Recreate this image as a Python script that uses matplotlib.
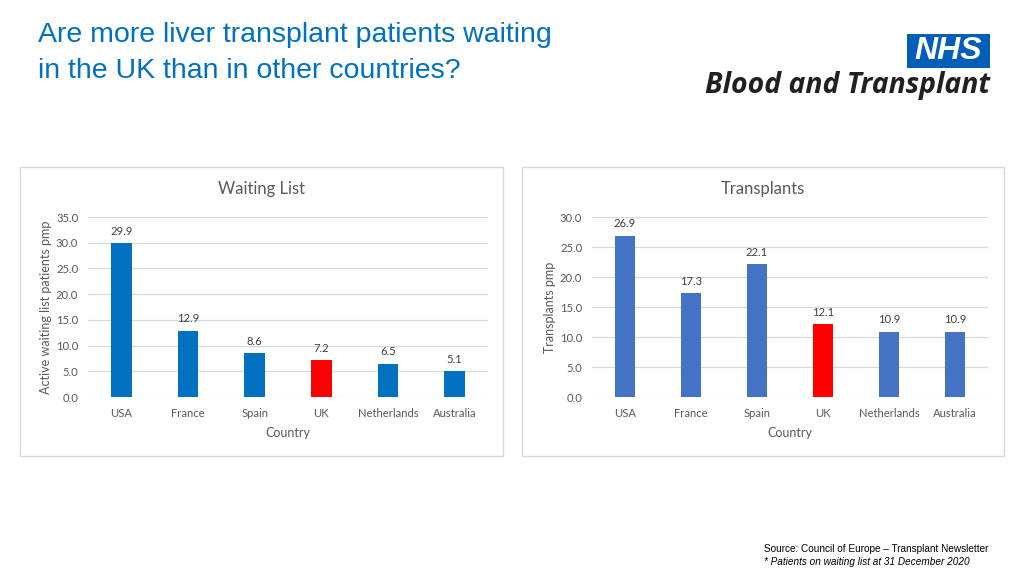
import matplotlib.pyplot as plt
from matplotlib.patches import Rectangle

countries = ["USA", "France", "Spain", "UK", "Netherlands", "Australia"]
waiting = [29.9, 12.9, 8.6, 7.2, 6.5, 5.1]
transplants = [26.9, 17.3, 22.1, 12.1, 10.9, 10.9]

W, H = 1024, 576
fig = plt.figure(figsize=(W / 100, H / 100), dpi=100)
fig.patch.set_facecolor("white")

CHART_FONT = ["Lato", "DejaVu Sans"]
GREY = "#595959"


def px_axes(x0, y0, x1, y1):
    # pixel box (top-left origin) -> figure axes
    ax = fig.add_axes([x0 / W, 1 - y1 / H, (x1 - x0) / W, (y1 - y0) / H])
    ax.set_zorder(2)
    ax.patch.set_alpha(0)
    return ax


def panel(x0, y0, x1, y1):
    fig.patches.append(Rectangle((x0 / W, 1 - y1 / H), (x1 - x0) / W,
                                 (y1 - y0) / H, transform=fig.transFigure,
                                 facecolor="white", edgecolor="#d9d9d9",
                                 linewidth=1.0, zorder=-1))


def bar_chart(ax, values, blue, ymax, title, ylabel, px_box):
    colors = ["#FF0000" if c == "UK" else blue for c in countries]
    bars = ax.bar(countries, values, width=0.31, color=colors, zorder=3)
    ax.set_ylim(0, ymax)
    ax.set_xlim(-0.5, len(countries) - 0.5)
    ax.set_yticks(range(0, ymax + 1, 5))
    ax.set_yticklabels([f"{v:.1f}" for v in range(0, ymax + 1, 5)])
    ax.grid(axis="y", color="#d9d9d9", linewidth=0.9, zorder=0)
    for s in ax.spines.values():
        s.set_visible(False)
    ax.tick_params(axis="y", length=0, labelsize=8.1, labelcolor=GREY, pad=7)
    ax.tick_params(axis="x", length=0, labelsize=8.1, labelcolor=GREY, pad=8)
    for lab in ax.get_xticklabels() + ax.get_yticklabels():
        lab.set_family(CHART_FONT)
    for b, v in zip(bars, values):
        ax.annotate(f"{v:.1f}", (b.get_x() + b.get_width() / 2, v),
                    xytext=(0, 4.5), textcoords="offset points",
                    ha="center", va="bottom", fontsize=8.1, color="#404040",
                    family=CHART_FONT)
    ax.set_xlabel("Country", fontsize=9, color=GREY, family=CHART_FONT,
                  labelpad=5.5)
    ax.set_ylabel(ylabel, fontsize=9, color=GREY, family=CHART_FONT,
                  labelpad=3)
    x0, x1 = px_box
    fig.text((x0 + x1) / 2 / W, 1 - 189 / H, title, ha="center", va="center",
             fontsize=12, color=GREY, family=CHART_FONT)


panel(20, 167, 503, 456)
panel(522, 167, 1004, 456)

ax1 = px_axes(88, 217, 488, 397)
bar_chart(ax1, waiting, "#0070C0", 35, "Waiting List",
          "Active waiting list patients pmp", (20, 503))

ax2 = px_axes(592, 217, 988, 397)
bar_chart(ax2, transplants, "#4472C4", 30, "Transplants",
          "Transplants pmp", (522, 1004))

# slide heading
fig.text(38 / W, 1 - 22.5 / H,
         "Are more liver transplant patients waiting\nin the UK than in other countries?",
         ha="left", va="top", fontsize=20.5, color="#0070C0",
         family="Liberation Sans", linespacing=1.46)

# NHS logo
fig.patches.append(Rectangle((907 / W, 1 - 68 / H), 83 / W, 34 / H,
                             transform=fig.transFigure, facecolor="#005EB8",
                             edgecolor="none"))
fig.text(948 / W, 1 - 51 / H, "NHS", ha="center", va="center", fontsize=23,
         color="white", weight="bold", style="italic", family="Liberation Sans")
fig.text(990 / W, 1 - 86 / H, "Blood and Transplant", ha="right", va="center",
         fontsize=20.4, color="#231f20", weight="bold", style="italic",
         family="Open Sans")

# source note
fig.text(764 / W, 1 - 549 / H, "Source: Council of Europe \u2013 Transplant Newsletter",
         ha="left", va="center", fontsize=7.2, color="black",
         family="Liberation Sans")
fig.text(764 / W, 1 - 562 / H, "* Patients on waiting list at 31 December 2020",
         ha="left", va="center", fontsize=7.2, color="black", style="italic",
         family="Liberation Sans")

fig.savefig("out.png", dpi=100)
